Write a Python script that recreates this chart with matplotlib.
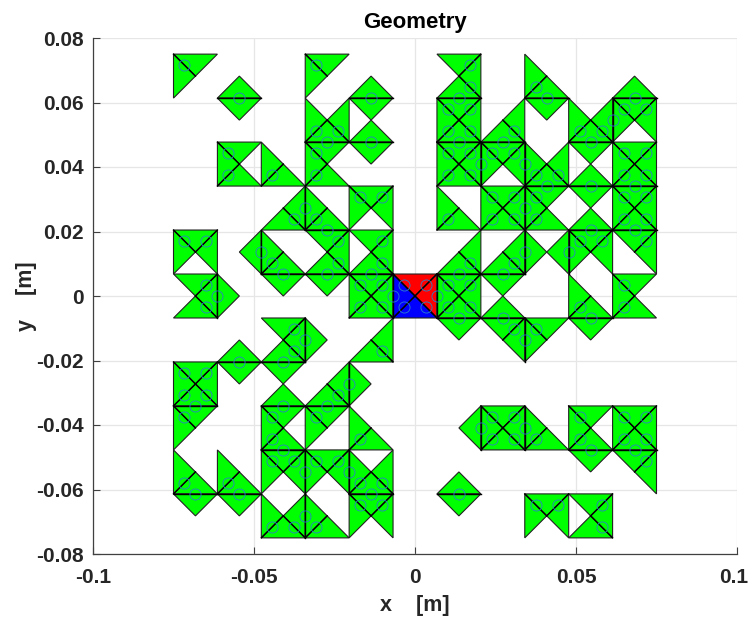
"""Triangle mesh geometry with feed patches and shared edge markers."""

import numpy as np
import matplotlib
matplotlib.use("Agg")
import matplotlib.pyplot as plt
from matplotlib.transforms import ScaledTranslation

plt.rcParams["font.family"] = ["Liberation Sans", "DejaVu Sans"]

# Which triangles exist in each grid cell (T/R/B/L), rows run top to bottom
ROW_00 = ["TL", "B", "", "TL", "B", "", "TRB", "", "LB", "", "B"]
ROW_01 = ["", "T", "", "LRB", "TB", "", "TRBL", "RB", "T", "LRB", "TLR"]
ROW_02 = ["", "TLB", "LB", "TLB", "T", "", "TRBL", "TLR", "LRB", "TB", "TRBL"]
ROW_03 = ["", "", "RB", "LB", "TLR", "", "LB", "TRBL", "TLB", "TB", "TRBL"]
ROW_04 = ["TLR", "R", "LB", "TRB", "TRB", "", "RB", "RB", "LR", "TLR", "TR"]
ROW_05 = ["TRB", "L", "T", "T", "TRBL", "TRBL", "TRBL", "TB", "", "LB", "TLB"]
ROW_06 = ["", "B", "TRB", "L", "RB", "", "T", "TR", "TL", "T", ""]
ROW_07 = ["TRBL", "T", "TB", "RB", "L", "", "", "", "", "", ""]
ROW_08 = ["TL", "", "TLB", "TL", "LB", "", "R", "TRBL", "LB", "TLB", "TRBL"]
ROW_09 = ["LB", "LB", "TLR", "TLR", "LRB", "", "B", "", "", "T", "TR"]
ROW_10 = ["T", "T", "LRB", "LB", "TLR", "", "T", "", "TLR", "TRB", ""]
ROWS = [ROW_00, ROW_01, ROW_02, ROW_03, ROW_04, ROW_05,
        ROW_06, ROW_07, ROW_08, ROW_09, ROW_10]

GRID_HALF_WIDTH = 0.075
# Feed cell is coloured differently
FEED_ROW = 5
FEED_COL = 5
FEED_RED = "TR"
FEED_BLUE = "LB"

X_TICKS = [-0.1, -0.05, 0, 0.05, 0.1]
X_LABELS = ["-0.1", "-0.05", "0", "0.05", "0.1"]
Y_TICKS = [-0.08, -0.06, -0.04, -0.02, 0, 0.02, 0.04, 0.06, 0.08]
Y_LABELS = ["-0.08", "-0.06", "-0.04", "-0.02", "0", "0.02", "0.04", "0.06", "0.08"]

# =============================================================================
# Build triangles on a half cell integer lattice, so edges can be compared
CORNERS = {"T": ((0, 0), (2, 0)), "R": ((2, 0), (2, 2)),
           "B": ((2, 2), (0, 2)), "L": ((0, 2), (0, 0))}
n_rows = len(ROWS)
cell = 2 * GRID_HALF_WIDTH / n_rows


def to_xy(pt):
    return (-GRID_HALF_WIDTH + pt[0] * cell / 2, GRID_HALF_WIDTH - pt[1] * cell / 2)


triangles = []
colors = []
edge_count = {}
for r, row in enumerate(ROWS):
    for c, code in enumerate(row):
        for side in code:
            a, b = CORNERS[side]
            tri = [(2 * c + a[0], 2 * r + a[1]), (2 * c + b[0], 2 * r + b[1]),
                   (2 * c + 1, 2 * r + 1)]
            triangles.append(tri)
            color = "#00ff00"
            if r == FEED_ROW and c == FEED_COL:
                color = "#ff0000" if side in FEED_RED else "#0000ff"
            colors.append(color)
            for i in range(3):
                key = tuple(sorted((tri[i], tri[(i + 1) % 3])))
                edge_count[key] = edge_count.get(key, 0) + 1

shared = [k for k, v in edge_count.items() if v == 2]

# =============================================================================
# Plot
fig = plt.figure(figsize=(7.49, 6.17), dpi=100)
ax = fig.add_axes([93 / 749, 1 - 554 / 617, 644 / 749, 516 / 617])

for tri, color in zip(triangles, colors):
    pts = np.array([to_xy(p) for p in tri])
    ax.fill(pts[:, 0], pts[:, 1], facecolor=color, edgecolor="#222222",
            linewidth=0.8, zorder=2)

for p, q in shared:
    p, q = to_xy(p), to_xy(q)
    ax.plot([p[0], q[0]], [p[1], q[1]], color="black", linewidth=1.0, zorder=3)
    ax.plot((p[0] + q[0]) / 2, (p[1] + q[1]) / 2, marker="o", markersize=8,
            markerfacecolor="none", markeredgecolor="#2a80c8",
            markeredgewidth=0.6, zorder=4)

ax.set_xlim(-0.1, 0.1)
ax.set_ylim(-0.08, 0.08)
ax.set_xticks(X_TICKS, X_LABELS)
ax.set_yticks(Y_TICKS, Y_LABELS)
ax.grid(True, color="#e6e6e6", linewidth=0.9)
ax.set_axisbelow(True)
ax.spines["top"].set_visible(False)
ax.spines["right"].set_visible(False)
for side in ("left", "bottom"):
    ax.spines[side].set_color("#404040")
    ax.spines[side].set_linewidth(0.9)
ax.tick_params(direction="in", length=5, width=0.8, color="#404040",
               labelcolor="#262626", labelsize=15, pad=7)
ax.tick_params(axis="x", pad=10)
for label in ax.get_xticklabels() + ax.get_yticklabels():
    label.set_fontweight("bold")

# Last x label sits right at the figure edge, nudge it inside
last = ax.get_xticklabels()[-1]
last.set_transform(last.get_transform() + ScaledTranslation(-3 / 100, 0, fig.dpi_scale_trans))

ax.set_xlabel("x    [m]", fontsize=15.5, fontweight="bold", color="#262626", labelpad=5.5)
ax.set_ylabel("y    [m]", fontsize=15.5, fontweight="bold", color="#262626", labelpad=-1)
ax.set_title("Geometry", fontsize=16, fontweight="bold", color="black", pad=7)

fig.savefig("out.png", dpi=100)
print("Finished.")
